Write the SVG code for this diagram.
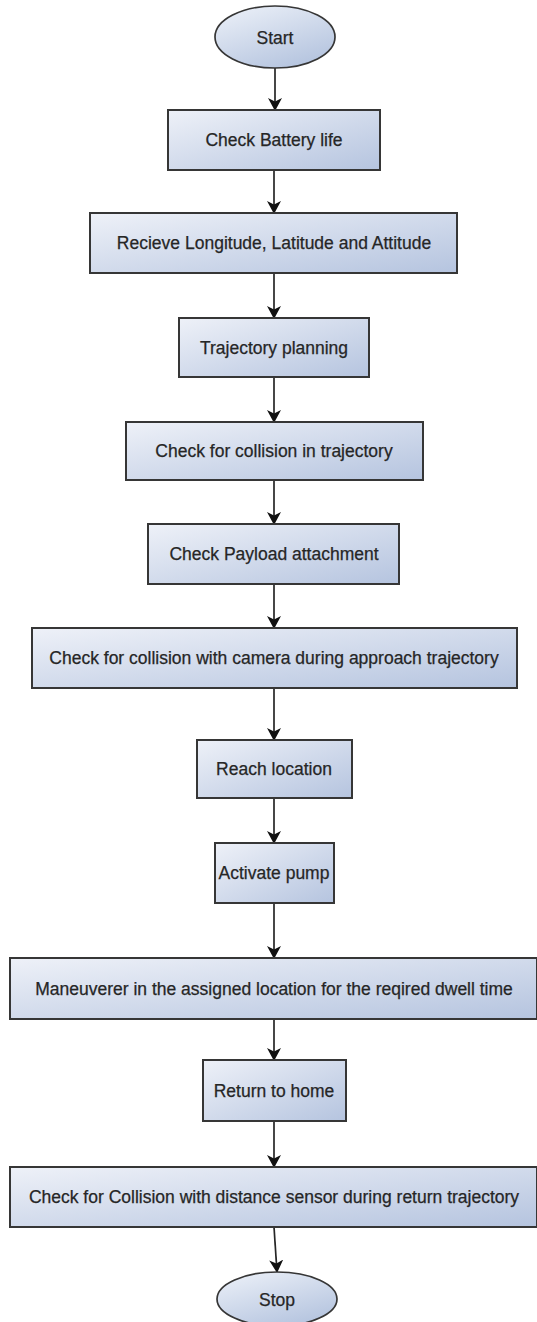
<svg xmlns="http://www.w3.org/2000/svg" width="537" height="1322" viewBox="0 0 537 1322">
<defs>
<linearGradient id="g" x1="0" y1="0" x2="1" y2="1">
<stop offset="0" stop-color="#eef1f8"/>
<stop offset="1" stop-color="#b5c4df"/>
</linearGradient>
<linearGradient id="ge" x1="0" y1="0" x2="0.6" y2="1">
<stop offset="0" stop-color="#eef2f9"/>
<stop offset="1" stop-color="#b7c6e0"/>
</linearGradient>
<marker id="ah" viewBox="0 0 13 14" refX="12" refY="7" markerWidth="13" markerHeight="14" markerUnits="userSpaceOnUse" orient="auto">
<path d="M0,0 L13,7 L0,14 L3.5,7 z" fill="#111"/>
</marker>
<style>
.n rect{fill:url(#g);stroke:#363636;stroke-width:2}
.n ellipse{fill:url(#ge);stroke:#363636;stroke-width:1.7}
.n text{font-family:"Liberation Sans",Arial,sans-serif;font-size:17.5px;fill:#262626;text-anchor:middle;stroke:#262626;stroke-width:0.25}
.c line{stroke:#262626;stroke-width:1.7;marker-end:url(#ah)}
</style>
</defs>
<g class="c" id="connectors">
<line x1="275" y1="67" x2="275" y2="110"/>
<line x1="274" y1="170" x2="274" y2="213"/>
<line x1="274" y1="273" x2="274" y2="318"/>
<line x1="274" y1="377" x2="274" y2="422"/>
<line x1="274" y1="480" x2="274" y2="524"/>
<line x1="274" y1="584" x2="274" y2="628"/>
<line x1="274" y1="688" x2="274" y2="740"/>
<line x1="274" y1="798" x2="274" y2="843"/>
<line x1="274" y1="903" x2="274" y2="958"/>
<line x1="274" y1="1019" x2="274" y2="1060"/>
<line x1="274" y1="1121" x2="274" y2="1167"/>
<line x1="274" y1="1227" x2="277" y2="1272"/>
</g>
<g class="n" id="start"><ellipse cx="275" cy="37" rx="60" ry="31"/><text x="275" y="43.5">Start</text></g>
<g class="n" id="battery"><rect x="168" y="110" width="212" height="60"/><text x="274" y="146">Check Battery life</text></g>
<g class="n" id="receive"><rect x="90" y="213" width="367" height="60"/><text x="274" y="249">Recieve Longitude, Latitude and Attitude</text></g>
<g class="n" id="trajectory"><rect x="179" y="318" width="190" height="59"/><text x="274" y="353.5">Trajectory planning</text></g>
<g class="n" id="collision"><rect x="126" y="422" width="297" height="58"/><text x="274" y="457">Check for collision in trajectory</text></g>
<g class="n" id="payload"><rect x="148" y="524" width="251" height="60"/><text x="274" y="560">Check Payload attachment</text></g>
<g class="n" id="camera"><rect x="32" y="628" width="485" height="60"/><text x="274" y="664">Check for collision with camera during approach trajectory</text></g>
<g class="n" id="reach"><rect x="197" y="740" width="155" height="58"/><text x="274" y="775">Reach location</text></g>
<g class="n" id="pump"><rect x="215" y="843" width="119" height="60"/><text x="274" y="879">Activate pump</text></g>
<g class="n" id="maneuver"><rect x="10" y="958" width="527" height="61"/><text x="274" y="994.5">Maneuverer in the assigned location for the reqired dwell time</text></g>
<g class="n" id="home"><rect x="203" y="1060" width="143" height="61"/><text x="274" y="1096.5">Return to home</text></g>
<g class="n" id="sensor"><rect x="10" y="1167" width="527" height="60"/><text x="274" y="1203">Check for Collision with distance sensor during return trajectory</text></g>
<g class="n" id="stop"><ellipse cx="277" cy="1299" rx="60" ry="27"/><text x="277" y="1305.5">Stop</text></g>
</svg>
